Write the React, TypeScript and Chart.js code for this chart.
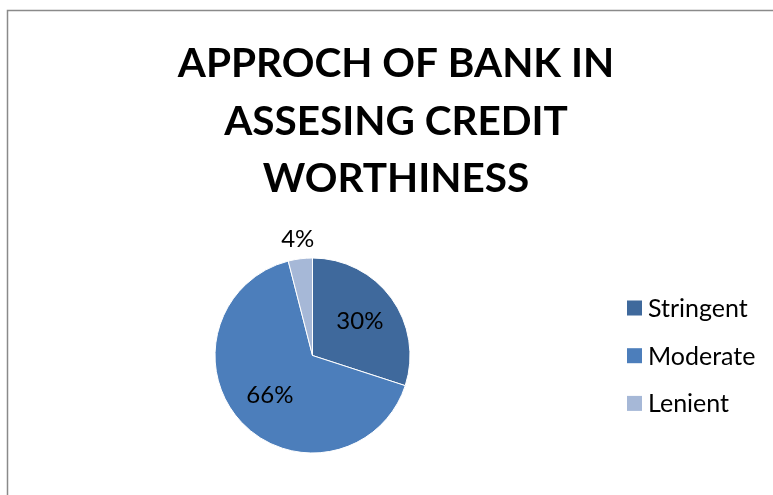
import React, { useEffect, useRef } from "react";
import { Chart, registerables } from "chart.js";

Chart.register(...registerables);

const titleLines = ["APPROCH OF BANK IN", "ASSESING CREDIT", "WORTHINESS"];
const categories = ["Stringent", "Moderate", "Lenient"];
const values = [30, 66, 4];
const colors = ["#3F699C", "#4C7EBB", "#A6B8D7"];

const W = 773;
const H = 495;

const overlay = {
  id: "overlay",
  beforeDraw(chart: any) {
    const ctx = chart.ctx;
    ctx.save();
    ctx.fillStyle = "#ffffff";
    ctx.fillRect(0, 0, W, H);
    ctx.strokeStyle = "#8a8a8a";
    ctx.lineWidth = 1.5;
    ctx.beginPath();
    ctx.moveTo(7.5, H);
    ctx.lineTo(7.5, 10.5);
    ctx.lineTo(W, 10.5);
    ctx.stroke();
    ctx.restore();
  },
  afterDraw(chart: any) {
    const ctx = chart.ctx;
    ctx.save();
    // title
    ctx.fillStyle = "#000000";
    ctx.font = "bold 40.5px Lato";
    ctx.textAlign = "center";
    ctx.textBaseline = "alphabetic";
    titleLines.forEach((line, i) => {
      ctx.fillText(line, 396, 77 + i * 57.7);
    });
    // slice labels
    const meta = chart.getDatasetMeta(0);
    const total = values.reduce((a, b) => a + b, 0);
    ctx.font = "24px Lato";
    ctx.textBaseline = "middle";
    meta.data.forEach((arc: any, i: number) => {
      const p = values[i] / total;
      const mid = (arc.startAngle + arc.endAngle) / 2;
      const r = p >= 0.1 ? arc.outerRadius * 0.6 : arc.outerRadius + 20;
      const x = arc.x + Math.cos(mid) * r;
      const y = arc.y + Math.sin(mid) * r;
      ctx.fillText(Math.round(p * 100) + "%", x, y);
    });
    // legend
    ctx.font = "25px Lato";
    ctx.textAlign = "left";
    categories.forEach((c, i) => {
      const cy = 308 + i * 47.7;
      ctx.fillStyle = colors[i];
      ctx.fillRect(627, cy - 7.5, 15, 15);
      ctx.fillStyle = "#000000";
      ctx.fillText(c, 648, cy + 1);
    });
    ctx.restore();
  },
};

export default function App() {
  const ref = useRef<HTMLCanvasElement | null>(null);
  useEffect(() => {
    if (!ref.current) return;
    const chart = new Chart(ref.current, {
      type: "pie",
      data: {
        labels: categories,
        datasets: [
          {
            data: values,
            backgroundColor: colors,
            borderColor: "#ffffff",
            borderWidth: 1,
          },
        ],
      },
      options: {
        animation: false,
        responsive: false,
        events: [],
        layout: { padding: { left: 214.5, right: 362.5, top: 257.5, bottom: 41.5 } },
        plugins: {
          legend: { display: false },
          title: { display: false },
          tooltip: { enabled: false },
        },
      },
      plugins: [overlay],
    });
    return () => chart.destroy();
  }, []);
  return (
    <div style={{ position: "absolute", left: 0, top: 0, width: W, height: H }}>
      <canvas ref={ref} width={W} height={H} style={{ display: "block" }} />
    </div>
  );
}
